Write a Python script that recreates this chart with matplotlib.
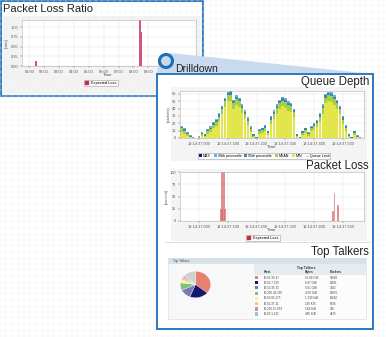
import matplotlib
matplotlib.use("Agg")
import matplotlib.pyplot as plt
from matplotlib.patches import Rectangle, Polygon, Circle, Patch
from matplotlib.lines import Line2D

plt.rcParams['font.family'] = ['Liberation Sans', 'DejaVu Sans']

W, H = 386, 337
BLUE = '#2b78c2'

# ---- Packet Loss Ratio (overview, hours) ----
ratio_t = [1.42, 1.47, 8.42, 8.52, 10.15]
ratio_v = [0.04, 0.13, 1.18, 0.88, 0.08]
ratio_ticks = [1, 2, 3, 4, 5, 6, 7, 8, 9]
ratio_labels = ['01:00', '02:00', '03:00', '04:00', '05:00', '06:00',
                '07:00', '08:00', '09:00']

# ---- Queue Depth (ms after 18:14:37.000) ----
q_t = [-60, -50, -40, -30, -20, -10, 0, 10, 20, 30, 40, 50, 60, 70, 80, 90,
       100, 110, 120, 130, 140, 150, 160, 170, 180, 190, 200, 210, 220, 230,
       240, 250, 260, 270, 280, 290, 300, 310, 320, 330, 340, 350, 360, 370,
       380, 390, 400, 410, 420, 430, 440, 450, 460, 470, 480, 490, 500, 510,
       520, 530, 540, 550, 560, 570]
q_max = [17, 14, 8, 4, 1, 0, 3, 8, 6, 12, 16, 22, 26, 34, 44, 55, 63, 64, 52, 58,
         55, 46, 38, 28, 16, 6, 2, 12, 14, 18, 10, 30, 38, 46, 52, 56, 54, 50, 48, 40,
         6, 2, 10, 14, 8, 16, 20, 24, 34, 46, 60, 63, 62, 58, 52, 44, 30, 18, 6, 2,
         10, 4, 1, 0]
q_p99 = [17, 14, 8, 4, 1, 0, 3, 8, 6, 12, 16, 22, 26, 34, 44, 55, 63, 64, 52, 58,
         55, 46, 38, 28, 16, 6, 2, 12, 14, 18, 10, 30, 38, 46, 52, 56, 54, 50, 48, 40,
         6, 2, 10, 14, 8, 16, 20, 24, 34, 46, 60, 63, 62, 58, 52, 44, 30, 18, 6, 2,
         10, 4, 1, 0]
q_p95 = [15, 12, 7, 3, 0, 0, 2, 7, 5, 11, 14, 20, 24, 32, 42, 53, 61, 62, 50, 56,
         53, 44, 36, 26, 14, 5, 1, 11, 13, 16, 9, 28, 36, 44, 50, 54, 52, 48, 46, 38,
         5, 1, 9, 13, 7, 15, 19, 23, 32, 44, 58, 61, 60, 56, 50, 42, 28, 16, 5, 1,
         9, 3, 0, 0]
q_mean = [13, 10, 5, 2, 0, 0, 1, 5, 3, 9, 12, 18, 22, 29, 39, 50, 58, 59, 47, 53,
          50, 41, 33, 23, 12, 3, 0, 9, 11, 14, 7, 25, 33, 41, 47, 51, 49, 45, 43, 35,
          3, 0, 7, 11, 5, 13, 17, 21, 29, 41, 55, 58, 57, 53, 47, 39, 25, 14, 3, 0,
          7, 2, 0, 0]
q_min = [8, 6, 3, 1, 0, 0, 0, 3, 1, 5, 8, 13, 17, 23, 32, 42, 50, 51, 40, 45,
         42, 34, 27, 18, 8, 1, 0, 5, 7, 9, 4, 19, 26, 33, 39, 43, 41, 37, 35, 28,
         1, 0, 4, 7, 3, 9, 12, 15, 22, 33, 47, 50, 49, 45, 39, 32, 19, 9, 1, 0,
         4, 1, 0, 0]
QUEUE_LIMIT = 80
q_series = ['MAX', '99th percentile', '95th percentile', 'MEAN', 'MIN']
q_colors = ['#16166e', '#6aaee0', '#3a86b8', '#a6cf44', '#e2e54c']

ms_ticks = [0, 100, 200, 300, 400, 500]
ms_labels = ['18:14:37.000', '18:14:37.100', '18:14:37.200',
             '18:14:37.300', '18:14:37.400', '18:14:37.500']

# ---- Packet Loss (ms) ----
loss_t = [74, 77, 80, 86, 89, 462, 465, 469, 482]
loss_v = [25, 100, 25, 100, 25, 5, 20, 57, 33]

# ---- Top Talkers ----
hosts = ['10.62.35.47', '10.62.7.130', '10.53.35.25', '10.205.45.207',
         '10.62.85.175', '10.62.37.11', '10.200.15.059', '10.60.1.232']
bytes_txt = ['10.04 GiB', '6.87 GiB', '3.61 GiB', '4.09 GiB',
             '1.130 GiB', '136 KiB', '544 KiB', '485 KiB']
packets_txt = ['39660', '11181', '7302', '13876', '11610', '6336', '336', '4875']
share = [36, 20, 12, 9, 4, 3, 2, 2, 12]
share_colors = ['#e8806e', '#16166e', '#7a7ab8', '#7cc07c', '#f2f296',
                '#eec68a', '#dc86a6', '#88c6ee', '#cfcfcf']


def box(x0, y0, x1, y1):
    return [x0 / W, 1 - y1 / H, (x1 - x0) / W, (y1 - y0) / H]


def style_chart(ax):
    ax.set_facecolor('white')
    ax.grid(True, color='#dedede', lw=0.3)
    ax.set_axisbelow(True)
    for s in ax.spines.values():
        s.set_color('#b0b0b0')
        s.set_linewidth(0.4)
    ax.tick_params(labelsize=2.8, length=1.2, width=0.3, pad=1.5,
                   colors='#555555')


fig = plt.figure(figsize=(3.86, 3.37), dpi=100)

# background layer
base = fig.add_axes([0, 0, 1, 1], zorder=0)
base.set_xlim(0, W)
base.set_ylim(H, 0)
base.axis('off')
for gx in range(0, W, 6):
    base.axvline(gx, color='#f1f1f1', lw=0.3)
for gy in range(0, H, 6):
    base.axhline(gy, color='#f1f1f1', lw=0.3)
base.add_patch(Rectangle((1, 1), 202, 95, fc='white', ec=BLUE, lw=1.5))
base.add_patch(Rectangle((3, 16), 198, 78, fc='#f3f3f3', ec='none'))
base.text(3, 9, 'Packet Loss Ratio', fontsize=8, va='center', color='#222222')

# overview chart
ax1 = fig.add_axes(box(22, 20, 196, 66), zorder=1)
style_chart(ax1)
ax1.bar(ratio_t, ratio_v, width=0.12, color='#d4547e', lw=0, label='Expected Loss')
ax1.set_xlim(0.51, 12.2)
ax1.set_ylim(0, 1.18)
ax1.set_xticks(ratio_ticks, ratio_labels)
ax1.set_yticks([0, 0.25, 0.5, 0.75, 1.0], ['0.00', '0.25', '0.50', '0.75', '1.00'])
ax1.set_ylabel('[ratio]', fontsize=2.8, labelpad=1, color='#555555')
ax1.text(0.49, -0.2, 'Time', transform=ax1.transAxes, fontsize=3.2,
         ha='center', va='center', color='#444444')
leg = ax1.legend(handles=[Patch(fc='#c03040', ec='#c03040')], labels=['Expected Loss'],
                 loc='center', bbox_to_anchor=(0.454, -0.37), fontsize=2.8,
                 handlelength=0.7, handleheight=0.7, borderpad=0.3,
                 fancybox=False, edgecolor='#888888')
leg.get_frame().set_linewidth(0.4)

# drilldown overlay
over = fig.add_axes([0, 0, 1, 1], zorder=2)
over.set_xlim(0, W)
over.set_ylim(H, 0)
over.axis('off')
over.patch.set_alpha(0)
over.add_patch(Polygon([(159, 57), (170, 53), (373, 74), (157, 74)],
                       fc='#c9daee', ec='none'))
over.add_patch(Rectangle((157, 74), 216, 255, fc='white', ec=BLUE, lw=1.4))
over.text(175, 68.5, 'Drilldown', fontsize=7.5, va='center', color='#222222')
over.add_patch(Rectangle((171, 87), 196, 74, fc='#f4f4f4', ec='none'))
over.add_patch(Rectangle((171, 169), 196, 72, fc='#f4f4f4', ec='none'))
over.plot([165, 370], [241.5, 241.5], color='#d0d8e0', lw=0.6)
for title, ty in [('Queue Depth', 81.5), ('Packet Loss', 166), ('Top Talkers', 252.5)]:
    over.text(369, ty, title, fontsize=8.3, ha='right', va='center', color='#222222')

# top talkers panel and table
over.add_patch(Rectangle((168, 258), 198, 61, fc='#f8f8f8', ec='#d8d8d8', lw=0.4))
over.add_patch(Rectangle((168, 258), 198, 6, fc='#d5e2ec', ec='none'))
over.text(173, 261, 'Top Talkers', fontsize=2.3, va='center', color='#444444')
over.add_patch(Rectangle((254, 264), 112, 55, fc='#fcfcfc', ec='none'))
over.add_patch(Rectangle((254, 264), 112, 11, fc='#e6ebf0', ec='none'))
over.text(306, 267.5, 'Top Talkers', fontsize=2.4, ha='center', va='center',
          color='#333333', fontweight='bold')
for hx, htxt in [(264, 'Host'), (305, 'Bytes'), (330, 'Packets')]:
    over.text(hx, 272, htxt, fontsize=2.3, va='center', color='#333333',
              fontweight='bold')
row_y = [277.7, 282.7, 287.7, 293.3, 298.3, 303.7, 309, 314]
for i, ry in enumerate(row_y):
    over.add_patch(Rectangle((255, ry - 1.7), 3.4, 3.4, fc=share_colors[i], ec='none'))
    over.text(264, ry, hosts[i], fontsize=2.2, va='center', color='#444444')
    over.text(305, ry, bytes_txt[i], fontsize=2.2, va='center', color='#444444')
    over.text(330, ry, packets_txt[i], fontsize=2.2, va='center', color='#444444')
over.add_patch(Circle((166, 61), 6.5, fill=False, ec='#1f6fb5', lw=2.2, zorder=10))

# queue depth chart
ax2 = fig.add_axes(box(180, 91, 364, 138), zorder=3)
style_chart(ax2)
handles = []
for vals, name, c in zip([q_max, q_p99, q_p95, q_mean, q_min], q_series, q_colors):
    handles.append(ax2.bar(q_t, vals, width=8.6, color=c, lw=0, label=name))
handles.append(ax2.axhline(QUEUE_LIMIT, color='#f0b0c4', lw=0.6, label='Queue Limit'))
ax2.set_xlim(-66, 573)
ax2.set_ylim(0, 64)
ax2.set_xticks(ms_ticks, ms_labels)
ax2.set_yticks([0, 10, 20, 30, 40, 50, 60])
ax2.set_ylabel('[packets]', fontsize=2.8, labelpad=1, color='#555555')
ax2.text(0.5, -0.2, 'Time', transform=ax2.transAxes, fontsize=3.2,
         ha='center', va='center', color='#444444')
leg2 = ax2.legend(handles=handles, loc='center', bbox_to_anchor=(0.457, -0.383),
                  ncol=6, fontsize=2.6, handlelength=0.8, handleheight=0.7,
                  handletextpad=0.3, columnspacing=0.8, borderpad=0.3,
                  fancybox=False, edgecolor='#888888')
leg2.get_frame().set_linewidth(0.4)

# packet loss chart
ax3 = fig.add_axes(box(180, 172, 364, 221), zorder=3)
style_chart(ax3)
ax3.bar(loss_t, loss_v, width=3, color='#f4c0c0', edgecolor='#d05050', lw=0.4,
        label='Expected Loss')
ax3.set_xlim(-66, 573)
ax3.set_ylim(0, 100)
ax3.set_xticks(ms_ticks, ms_labels)
ax3.set_yticks([0, 25, 50, 75, 100])
ax3.set_ylabel('[percent]', fontsize=2.8, labelpad=1, color='#555555')
ax3.text(0.5, -0.19, 'Time', transform=ax3.transAxes, fontsize=3.2,
         ha='center', va='center', color='#444444')
leg3 = ax3.legend(handles=[Patch(fc='#c03040', ec='#c03040')], labels=['Expected Loss'],
                  loc='center', bbox_to_anchor=(0.45, -0.35), fontsize=2.8,
                  handlelength=0.7, handleheight=0.7, borderpad=0.3,
                  fancybox=False, edgecolor='#888888')
leg3.get_frame().set_linewidth(0.4)

# pie
ax4 = fig.add_axes(box(180, 271, 211, 298), zorder=3)
ax4.pie(share, colors=share_colors, startangle=90, counterclock=False,
        wedgeprops=dict(lw=0.2, edgecolor='white'))
ax4.set_aspect('auto')
ax4.set_xlim(-1.02, 1.02)
ax4.set_ylim(-1.02, 1.02)
ax4.axis('off')

fig.savefig('out.png', dpi=100)
